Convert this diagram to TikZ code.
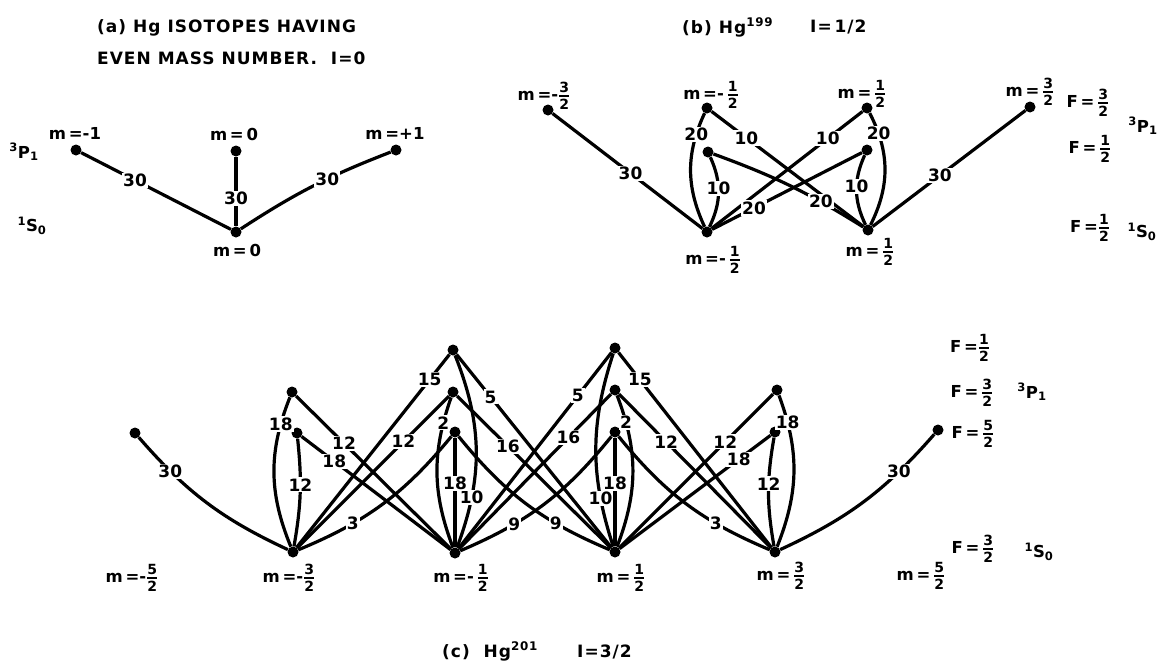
\documentclass[tikz,border=0pt]{standalone}
\usepackage{amsmath}
\usepackage{fontspec}
\setmainfont{DejaVu Sans}
\newfontfamily\ttlfamily[LetterSpace=6]{DejaVu Sans}
\newcommand\frfont{\bfseries\fontsize{14}{14}\selectfont}
\newcommand\fr[2]{\ensuremath{\genfrac{}{}{2pt}{}{\hbox{\frfont #1}}{\hbox{\frfont #2}}}}
\newcommand\lblfont{\bfseries\fontsize{17}{17}\selectfont}
\newcommand\txtfont{\bfseries\fontsize{16.5}{16.5}\selectfont}
\newcommand\ttlfont{\ttlfamily\bfseries\fontsize{17}{20}\selectfont}
\tikzset{
  dot/.style={circle,fill=black,inner sep=0pt,minimum size=11pt},
  ln/.style={line width=3.2pt},
  lbl/.style={fill=white,inner sep=1.2pt,font=\lblfont},
  txt/.style={inner sep=0pt,font=\txtfont},
  ttl/.style={inner sep=0pt,anchor=base west,font=\ttlfont},
}
\begin{document}
\begin{tikzpicture}[x=1pt,y=1pt]
\useasboundingbox[fill=white] (0,0) rectangle (1166,-662);

% ---------------- (a) ----------------
\node[ttl] (ta1) at (97,-32) {(a) Hg ISOTOPES HAVING};
\node[ttl] (ta2) at (97,-64) {EVEN MASS NUMBER.\ \ I=0};
\node[dot] (a1) at (76,-150) {};
\node[dot] (a2) at (236,-151) {};
\node[dot] (a3) at (396,-150) {};
\node[dot] (a0) at (236,-232) {};
\draw[ln] (a1) -- node[lbl,pos=.36]{30} (a0);
\draw[ln] (a2) -- node[lbl,pos=.6]{30} (a0);
\draw[ln] (a0) to[bend left=6] node[lbl,pos=.6]{30} (a3);
\node[txt] (la1) at (75,-133) {m\,=-1};
\node[txt] (la2) at (234,-134) {m\,=\,0};
\node[txt] (la3) at (395,-133) {m\,=+1};
\node[txt] (la0) at (237,-250) {m\,=\,0};
\node[txt] (pa) at (24,-152) {\textsuperscript{3}P\textsubscript{1}};
\node[txt] (sa) at (32,-226) {\textsuperscript{1}S\textsubscript{0}};

% ---------------- (b) ----------------
\node[ttl] (tb1) at (682,-33) {(b) Hg\textsuperscript{199}};
\node[ttl] (tb2) at (810,-32) {I=\,1/2};
\node[dot] (t1) at (548,-110) {};
\node[dot] (t2) at (707,-108) {};
\node[dot] (t3) at (708,-152) {};
\node[dot] (t4) at (867,-108) {};
\node[dot] (t5) at (867,-150) {};
\node[dot] (t6) at (1030,-107) {};
\node[dot] (u1) at (707,-232) {};
\node[dot] (u2) at (868,-230) {};
\draw[ln] (t1) -- node[lbl,pos=.52]{30} (u1);
\draw[ln] (t2) to[bend right=25] node[lbl,pos=.18]{20} (u1);
\draw[ln] (t3) to[bend left=25] node[lbl,pos=.45]{10} (u1);
\draw[ln] (t2) -- node[lbl,pos=.23]{10} (u2);
\draw[ln] (t3) to[bend left=6] node[lbl,pos=.72]{20} (u2);
\draw[ln] (u1) -- node[lbl,pos=.77]{10} (t4);
\draw[ln] (u1) -- node[lbl,pos=.28]{20} (t5);
\draw[ln] (t4) to[bend left=27] node[lbl,pos=.18]{20} (u2);
\draw[ln] (t5) to[bend right=25] node[lbl,pos=.45]{10} (u2);
\draw[ln] (u2) -- node[lbl,pos=.44]{30} (t6);
\node[txt] (lb1) at (544,-96) {m\,=-\fr{3}{2}};
\node[txt] (lb2) at (711,-95) {m\,=-\,\fr{1}{2}};
\node[txt] (lb4) at (862,-94) {m\,=\,\fr{1}{2}};
\node[txt] (lb6) at (1030,-92) {m\,=\,\fr{3}{2}};
\node[txt] (lu1) at (713,-260) {m\,=-\,\fr{1}{2}};
\node[txt] (lu2) at (870,-252) {m\,=\,\fr{1}{2}};
\node[txt] (fb1) at (1088,-103) {F\,=\,\fr{3}{2}};
\node[txt] (fb2) at (1090,-149) {F\,=\,\fr{1}{2}};
\node[txt] (fb3) at (1090,-228) {F\,=\fr{1}{2}};
\node[txt] (pb) at (1143,-126) {\textsuperscript{3}P\textsubscript{1}};
\node[txt] (sb) at (1142,-232) {\textsuperscript{1}S\textsubscript{0}};

% ---------------- (c) ----------------
\node[ttl] (tc1) at (442,-657) {(c)\ \ Hg\textsuperscript{201}};
\node[ttl] (tc2) at (577,-657) {I=3/2};
\node[dot] (c0) at (135,-433) {};
\node[dot] (p3a) at (292,-392) {};
\node[dot] (p5a) at (297,-433) {};
\node[dot] (p1b) at (453,-350) {};
\node[dot] (p3b) at (453,-392) {};
\node[dot] (p5b) at (455,-432) {};
\node[dot] (p1c) at (615,-348) {};
\node[dot] (p3c) at (615,-390) {};
\node[dot] (p5c) at (615,-432) {};
\node[dot] (p3d) at (777,-390) {};
\node[dot] (p5d) at (775,-432) {};
\node[dot] (p5e) at (938,-430) {};
\node[dot] (q1) at (293,-552) {};
\node[dot] (q2) at (455,-553) {};
\node[dot] (q3) at (615,-552) {};
\node[dot] (q4) at (775,-552) {};

\draw[ln] (c0) to[bend right=12] node[lbl,pos=.23]{30} (q1);
\draw[ln] (p3a) to[bend right=22] node[lbl,pos=.17]{18} (q1);
\draw[ln] (p5a) to[bend left=8] node[lbl,pos=.42]{12} (q1);
\draw[ln] (p3a) -- node[lbl,pos=.31]{12} (q2);
\draw[ln] (p5a) -- node[lbl,pos=.22]{18} (q2);
\draw[ln] (q1) -- node[lbl,pos=.87]{15} (p1b);
\draw[ln] (q1) -- node[lbl,pos=.70]{12} (p3b);
\draw[ln] (q1) to[bend right=14] node[lbl,pos=.3]{3} (p5b);

\draw[ln] (p1b) to[bend left=21] node[lbl,pos=.75]{10} (q2);
\draw[ln] (p3b) to[bend right=20] node[lbl,pos=.16]{2} (q2);
\draw[ln] (p5b) -- node[lbl,pos=.42]{18} (q2);
\draw[ln] (p1b) -- node[lbl,pos=.22]{5} (q3);
\draw[ln] (p3b) -- node[lbl,pos=.33]{16} (q3);
\draw[ln] (p5b) to[bend right=14] node[lbl,pos=.7]{9} (q3);
\draw[ln] (q2) -- node[lbl,pos=.78]{5} (p1c);
\draw[ln] (q2) -- node[lbl,pos=.72]{16} (p3c);
\draw[ln] (q2) to[bend right=14] node[lbl,pos=.3]{9} (p5c);

\draw[ln] (p1c) to[bend right=18] node[lbl,pos=.76]{10} (q3);
\draw[ln] (p3c) to[bend left=21] node[lbl,pos=.17]{2} (q3);
\draw[ln] (p5c) -- node[lbl,pos=.42]{18} (q3);
\draw[ln] (p1c) -- node[lbl,pos=.14]{15} (q4);
\draw[ln] (p3c) -- node[lbl,pos=.31]{12} (q4);
\draw[ln] (p5c) to[bend right=14] node[lbl,pos=.7]{3} (q4);
\draw[ln] (q3) -- node[lbl,pos=.69]{12} (p3d);
\draw[ln] (q3) -- node[lbl,pos=.79]{18} (p5d);

\draw[ln] (p3d) to[bend left=21] node[lbl,pos=.17]{18} (q4);
\draw[ln] (p5d) to[bend right=10] node[lbl,pos=.42]{12} (q4);
\draw[ln] (q4) to[bend right=12] node[lbl,pos=.75]{30} (p5e);

\node[txt] (lq0) at (132,-578) {m\,=-\fr{5}{2}};
\node[txt] (lq1) at (289,-578) {m\,=-\fr{3}{2}};
\node[txt] (lq2) at (461,-578) {m\,=-\,\fr{1}{2}};
\node[txt] (lq3) at (621,-578) {m\,=\,\fr{1}{2}};
\node[txt] (lq4) at (781,-576) {m\,=\,\fr{3}{2}};
\node[txt] (lq5) at (921,-576) {m\,=\,\fr{5}{2}};
\node[txt] (fc1) at (970,-348) {F\,=\fr{1}{2}};
\node[txt] (fc3) at (972,-393) {F\,=\,\fr{3}{2}};
\node[txt] (fc5) at (973,-434) {F\,=\,\fr{5}{2}};
\node[txt] (pc) at (1032,-392) {\textsuperscript{3}P\textsubscript{1}};
\node[txt] (fcs) at (973,-549) {F\,=\,\fr{3}{2}};
\node[txt] (sc) at (1039,-552) {\textsuperscript{1}S\textsubscript{0}};
\end{tikzpicture}
\end{document}
